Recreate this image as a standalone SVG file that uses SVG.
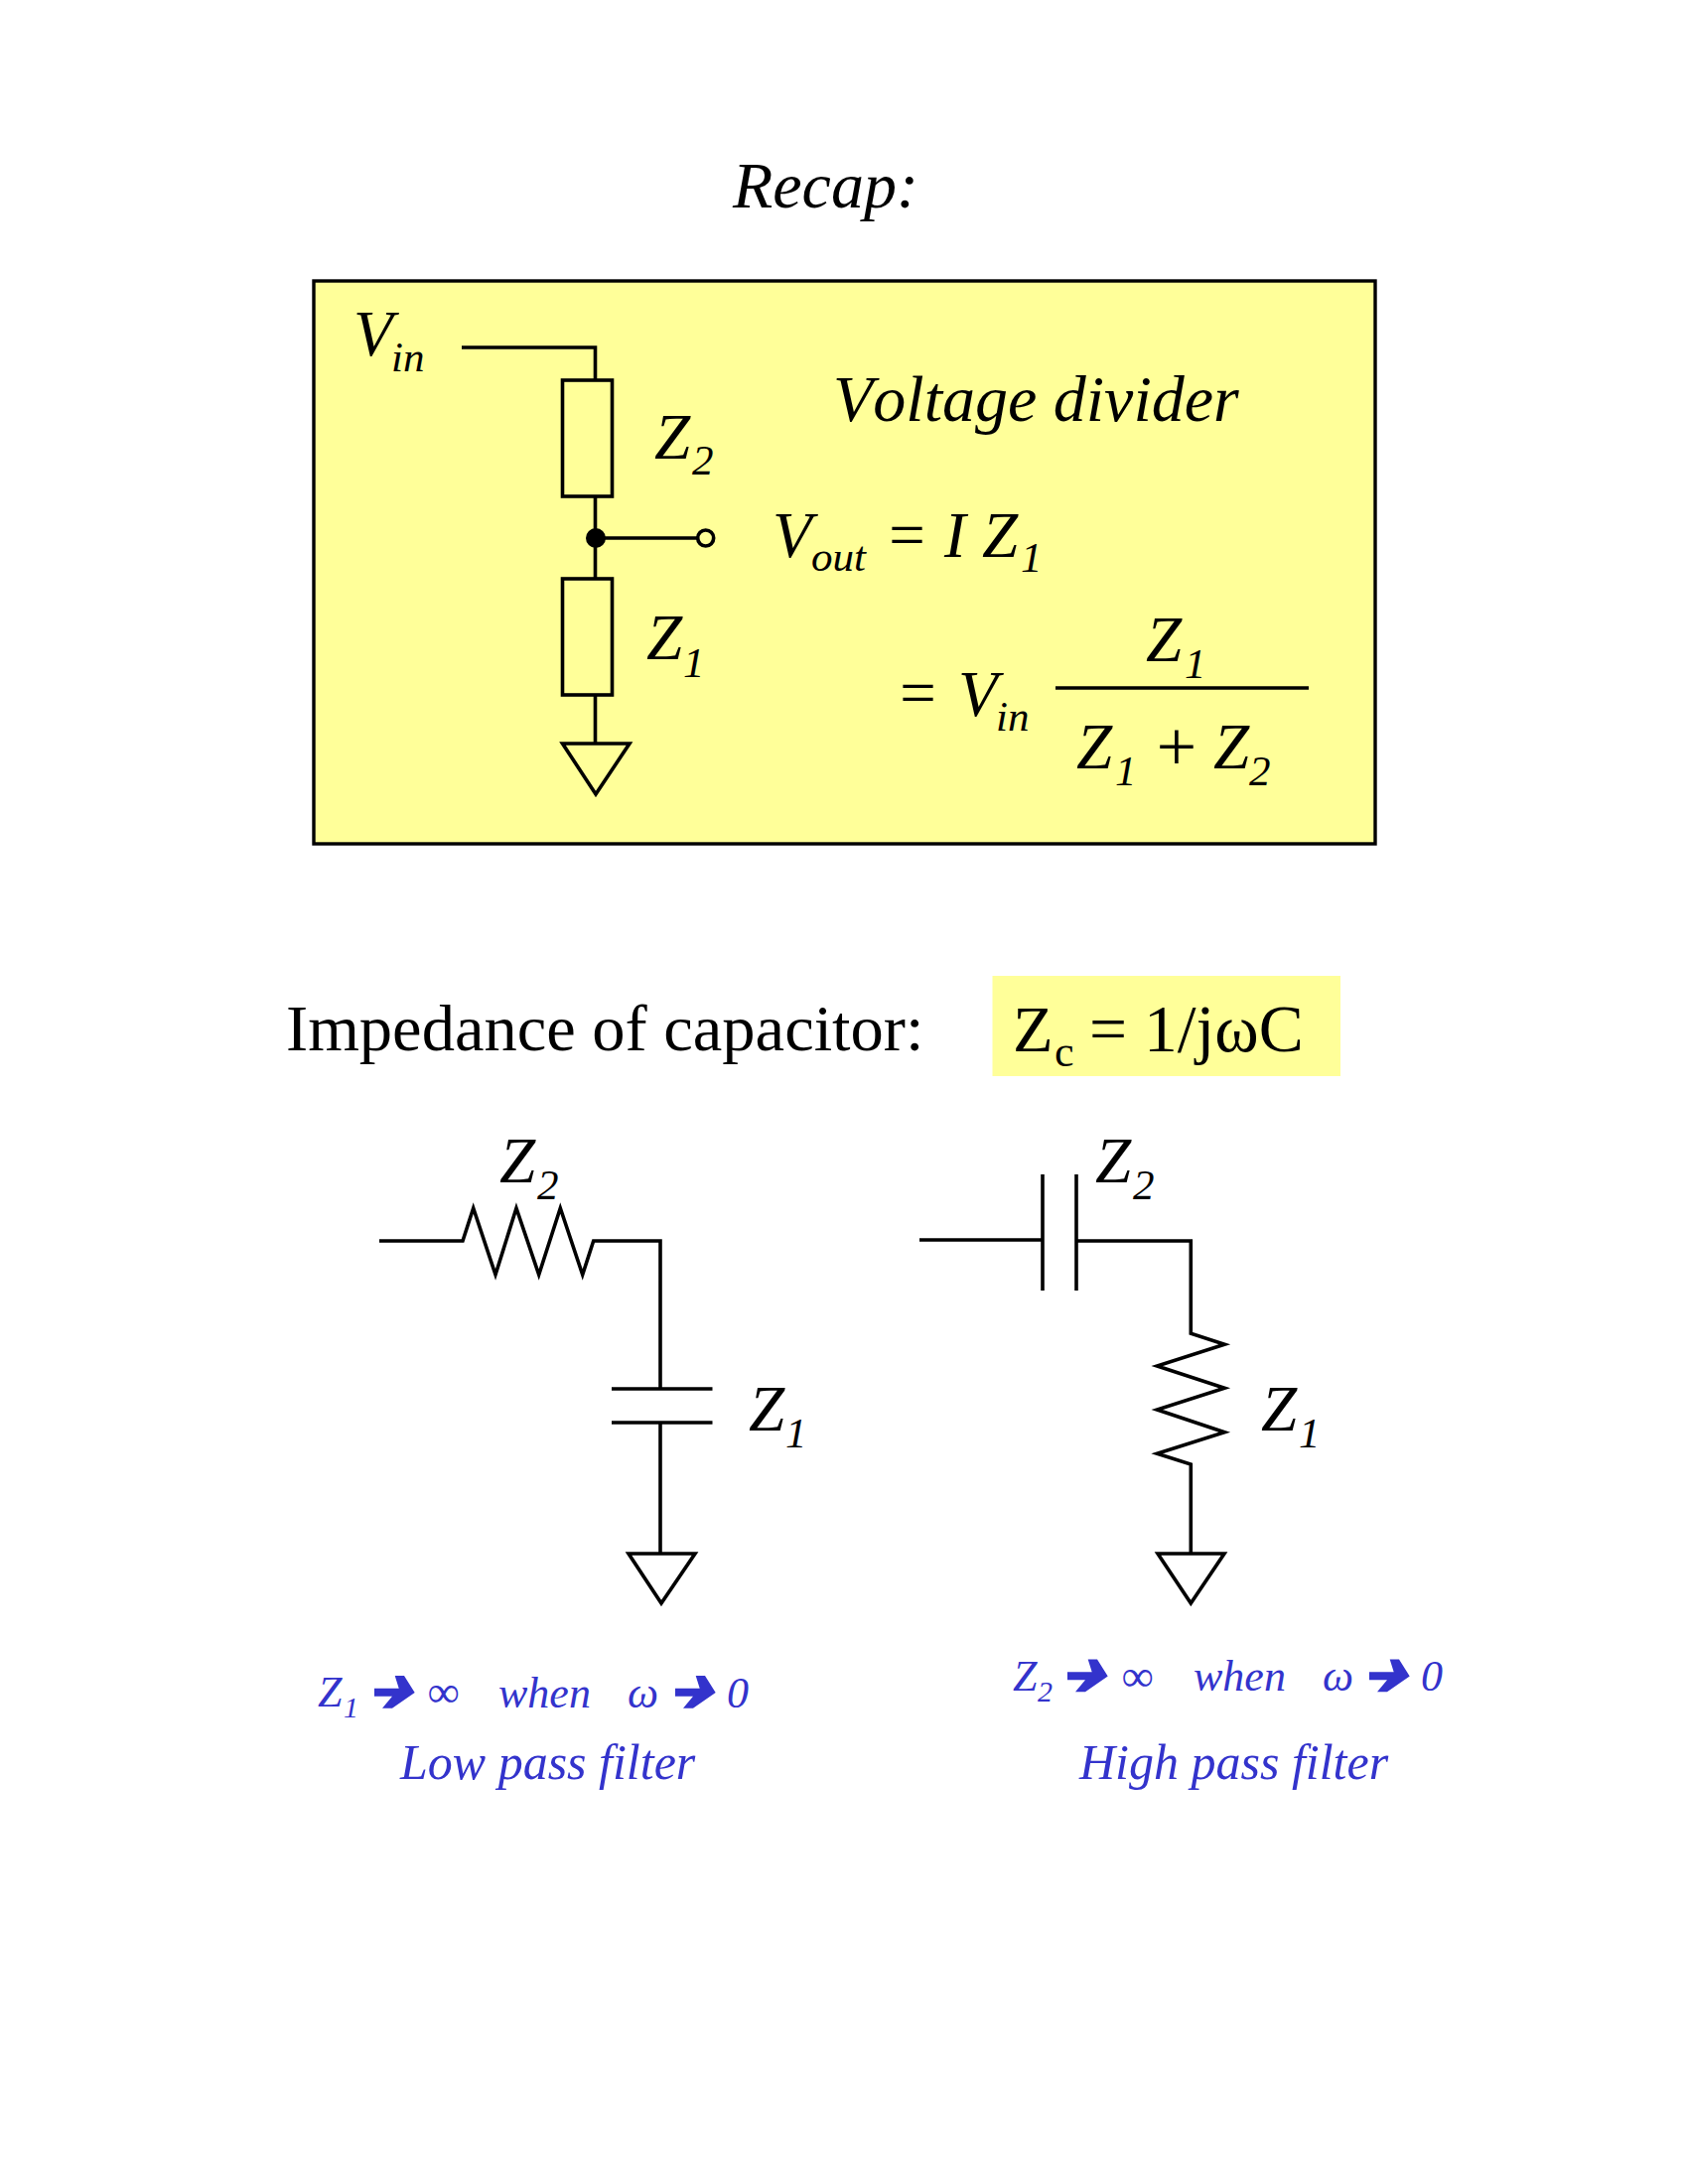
<svg xmlns="http://www.w3.org/2000/svg" width="1700" height="2200" viewBox="0 0 1700 2200">
<style>
text{font-family:"Liberation Serif","Times New Roman",serif;fill:#000;font-kerning:none;white-space:pre}
.i{font-style:italic}
.b{font-size:65px}
.v{font-size:66px}
.s{font-size:43px}
.r{font-size:66.5px}
.rf{font-size:67.5px}
.rs{font-size:44px}
.bl{fill:#3333cc;font-size:50px;font-style:italic}
.bm{fill:#3333cc;font-size:44px;font-style:italic}
.bs{fill:#3333cc;font-size:30px;font-style:italic}
.w{fill:none;stroke:#000;stroke-width:3.6;stroke-linejoin:miter}
.a{fill:#3333cc}
</style>
<defs><polygon id="arr" class="a" points="0,12.7 24.7,12.7 20.7,0 30,0 40.7,17 18,32.7 8,32.7 18,20.7 0,20.7"/></defs>
<rect width="1700" height="2200" fill="#fff"/>
<g id="title"><text class="i v" x="738" y="209">Recap:</text></g>
<g id="panel"><rect x="316" y="283" width="1069" height="567" fill="#ffff99" stroke="#000" stroke-width="3.4"/></g>
<g id="connectors">
<path class="w" d="M465 350H599.5V383M599.5 500V583M599.5 700V749M600 542H703"/>
<path class="w" d="M382 1250H466L476.700 1217 499 1284 520 1217 542.700 1284 564.300 1217 586.700 1284 597.700 1250H665V1399M665 1433V1565"/>
<path class="w" d="M926 1249H1049M1084 1250H1199.300V1343.300L1233.300 1354.300 1165.300 1376 1233.300 1398.300 1165.300 1420 1233.300 1442.700 1165.300 1464.300 1199.300 1475V1565"/>
</g>
<g id="z2-box"><rect class="w" x="566.500" y="383" width="50" height="117"/></g>
<g id="z1-box"><rect class="w" x="566.500" y="583" width="50" height="117"/></g>
<g id="ground-1"><path class="w" d="M566.500 749H634L600 800Z"/></g>
<g id="node-dot"><circle cx="600" cy="542" r="10" fill="#000"/></g>
<g id="vout-terminal"><circle cx="710.700" cy="542" r="8" fill="#ffff99" stroke="#000" stroke-width="3.6"/></g>
<g id="divider-labels">
<text class="i b" x="356" y="358">V</text>
<text class="i s" x="394" y="374">in</text>
<text class="i b" x="659" y="462">Z</text>
<text class="i s" x="697" y="478">2</text>
<text class="i b" x="651" y="664">Z</text>
<text class="i s" x="688" y="682">1</text>
<text class="i v" x="839" y="424">Voltage divider</text>
<text class="i b" x="778" y="561">V</text>
<text class="i s" x="817" y="575">out</text>
<text class="i b" x="891" y="561">= I Z</text>
<text class="i s" x="1028" y="576">1</text>
<text class="i b" x="902" y="720">=</text>
<text class="i b" x="965" y="721">V</text>
<text class="i s" x="1003" y="736">in</text>
<text class="i b" x="1154" y="666">Z</text>
<text class="i s" x="1193" y="683">1</text>
<text class="i b" x="1084" y="774">Z</text>
<text class="i s" x="1123" y="791">1</text>
<text class="i" style="font-size:72px" x="1160" y="776">+</text>
<text class="i b" x="1222" y="774">Z</text>
<text class="i s" x="1258" y="791">2</text>
</g>
<g id="fraction-bar"><path class="w" d="M1063 693H1318"/></g>
<g id="impedance-label"><text class="r" x="288" y="1058">Impedance of capacitor:</text></g>
<g id="impedance-formula">
<rect x="999.500" y="983" width="350.500" height="101" fill="#ffff99"/>
<text class="r" x="1020" y="1059">Z</text>
<text class="rs" x="1062" y="1074">c</text>
<text class="rf" x="1097" y="1059">= 1/jωC</text>
</g>
<g id="low-pass-cap"><path class="w" d="M616 1399H717.500M616 1433H717.500"/></g>
<g id="ground-2"><path class="w" d="M633 1565H700L666 1615Z"/></g>
<g id="low-pass-labels">
<text class="i b" x="503" y="1191">Z</text>
<text class="i s" x="541" y="1208">2</text>
<text class="i b" x="754" y="1441">Z</text>
<text class="i s" x="791" y="1458">1</text>
</g>
<g id="high-pass-cap"><path class="w" d="M1050 1183V1300M1084 1183V1300"/></g>
<g id="ground-3"><path class="w" d="M1166 1565H1233L1199.300 1615Z"/></g>
<g id="high-pass-labels">
<text class="i b" x="1103" y="1191">Z</text>
<text class="i s" x="1141" y="1208">2</text>
<text class="i b" x="1270" y="1441">Z</text>
<text class="i s" x="1308" y="1458">1</text>
</g>
<g id="low-pass-note">
<text class="bm" x="320" y="1719">Z</text>
<text class="bs" x="346" y="1730">1</text>
<use href="#arr" x="377" y="1688"/>
<text class="bm" x="431" y="1719">∞</text>
<text class="bm" x="502" y="1720">when</text>
<text class="bm" x="632" y="1720">ω</text>
<use href="#arr" x="680" y="1688"/>
<text class="bm" x="732" y="1720">0</text>
<text class="bl" x="403" y="1792">Low pass filter</text>
</g>
<g id="high-pass-note">
<text class="bm" x="1020" y="1703">Z</text>
<text class="bs" x="1045" y="1714">2</text>
<use href="#arr" x="1075" y="1671.500"/>
<text class="bm" x="1130" y="1703">∞</text>
<text class="bm" x="1202" y="1703">when</text>
<text class="bm" x="1332" y="1703">ω</text>
<use href="#arr" x="1379" y="1671.500"/>
<text class="bm" x="1431" y="1703">0</text>
<text class="bl" x="1087" y="1792">High pass filter</text>
</g>
</svg>
